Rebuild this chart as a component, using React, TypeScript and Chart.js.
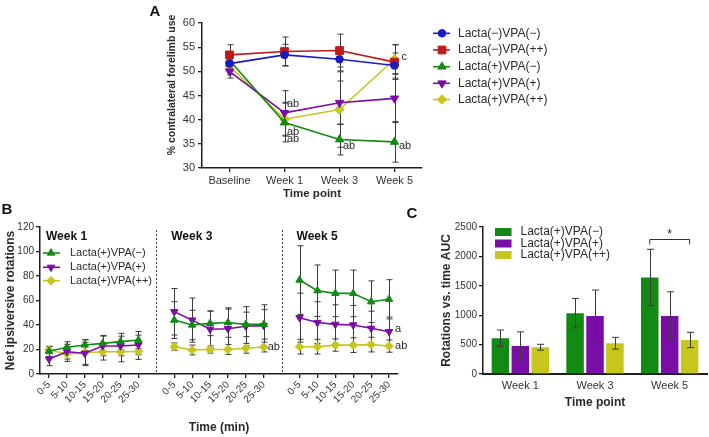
import React, { useEffect, useRef } from "react";
import { Chart, registerables } from "chart.js";
import { drawPoint } from "chart.js/helpers";

Chart.register(...registerables);

const FONT = "'Liberation Sans', Arial, Helvetica, sans-serif";
const AXIS = "#1e1e1e";
const TXT = "#2a2a2a";
const ERR = "#3a3a3a";
Chart.defaults.font.family = FONT;
Chart.defaults.color = TXT;

// ---------- Panel A data ----------
const timePointsA = ["Baseline", "Week 1", "Week 3", "Week 5"];
const groupNamesA = ["Lacta(−)VPA(−)", "Lacta(−)VPA(++)", "Lacta(+)VPA(−)", "Lacta(+)VPA(+)", "Lacta(+)VPA(++)"];
const forelimbBlue = [51.6, 53.4, 52.5, 51.2];
const forelimbBlueErr = [1.6, 2.2, 2.4, 2.6];
const forelimbRed = [53.4, 54.1, 54.3, 51.9];
const forelimbRedErr = [2.1, 3.0, 3.4, 3.6];
const forelimbGreen = [52.3, 39.4, 35.9, 35.4];
const forelimbGreenErr = [1.8, 4.0, 3.2, 4.2];
const forelimbPurple = [50.0, 41.4, 43.5, 44.4];
const forelimbPurpleErr = [1.4, 4.6, 4.5, 5.0];
const forelimbYellow = [51.1, 40.1, 42.1, 52.5];
const forelimbYellowErr = [1.8, 3.5, 7.8, 3.0];
const annotationTextA = ["ab", "ab", "ab", "ab", "ab", "c"];
const annotationCatA = [1, 1, 1, 2, 3, 3];
const annotationValueA = [43.2, 37.4, 36.0, 34.6, 34.6, 53.0];

// ---------- Panel B data ----------
const intervalLabels = ["0-5", "5-10", "10-15", "15-20", "20-25", "25-30"];
const weekNamesB = ["Week 1", "Week 3", "Week 5"];
const groupNamesB = ["Lacta(+)VPA(−)", "Lacta(+)VPA(+)", "Lacta(+)VPA(++)"];
const rotGreenW1 = [18.5, 21.8, 23.7, 25.0, 26.4, 27.7];
const rotGreenW3 = [44.0, 40.0, 41.3, 42.0, 40.5, 40.5];
const rotGreenW5 = [76.7, 68.0, 65.8, 65.8, 59.0, 61.0];
const rotPurpleW1 = [12.2, 18.2, 16.9, 22.9, 22.9, 23.7];
const rotPurpleW3 = [50.8, 44.0, 36.5, 37.0, 39.0, 39.5];
const rotPurpleW5 = [46.0, 42.0, 40.5, 40.0, 37.3, 34.5];
const rotYellowW1 = [19.6, 16.3, 17.4, 18.2, 18.2, 18.4];
const rotYellowW3 = [22.3, 19.6, 20.0, 20.0, 21.0, 22.0];
const rotYellowW5 = [22.3, 22.3, 23.6, 23.6, 24.0, 22.8];
const rotGreenErrW1 = [4, 4.5, 4.5, 6.5, 6.8, 7];
const rotGreenErrW3 = [15, 12, 10, 12, 10, 12];
const rotGreenErrW5 = [28, 21, 19, 19, 17, 16];
const rotPurpleErrW1 = [5.4, 6, 9, 8, 8, 8];
const rotPurpleErrW3 = [19, 18, 15, 16, 16, 17];
const rotPurpleErrW5 = [20, 17, 16, 16, 14, 12];
const rotYellowErrW1 = [3, 6, 10.5, 6.8, 8.2, 6.5];
const rotYellowErrW3 = [3, 4, 3, 4, 4, 4];
const rotYellowErrW5 = [6, 6, 5, 6, 6, 5];
const annotationTextB = ["ab", "a", "ab"];
const annotationCatB = [12, 19, 19];
const annotationValueB = [22.0, 36.7, 22.8];

// ---------- Panel C data ----------
const weeksC = ["Week 1", "Week 3", "Week 5"];
const aucGreen = [608, 1034, 1641];
const aucGreenErr = [140, 250, 480];
const aucPurple = [477, 988, 988];
const aucPurpleErr = [240, 440, 410];
const aucYellow = [455, 523, 579];
const aucYellowErr = [50, 100, 130];
const sigLabelC = "*";
const sigValueC = 2300;

const BLUE = "#1b1bc4";
const RED = "#bf1a1a";
const GREEN = "#138a13";
const PURPLE = "#7a0ca8";
const YELLOW = "#c6c61c";

function joinWeeks(a: number[], b: number[], c: number[]) {
  return [...a, null, ...b, null, ...c];
}
const labelsB = [...intervalLabels, "", ...intervalLabels, "", ...intervalLabels];

function errorBars(id: string, layer: "before" | "after", cap: number) {
  const draw = (chart: any) => {
    const { ctx } = chart;
    const ys = chart.scales.y;
    ctx.save();
    ctx.strokeStyle = ERR;
    ctx.lineWidth = 1;
    chart.data.datasets.forEach((ds: any, di: number) => {
      if (!ds.errors) return;
      const meta = chart.getDatasetMeta(di);
      meta.data.forEach((el: any, i: number) => {
        const v = ds.data[i];
        const e = ds.errors[i];
        if (v == null || e == null) return;
        const x = Math.round(el.x) + 0.5;
        const yt = ys.getPixelForValue(v + e);
        const yb = ys.getPixelForValue(v - e);
        ctx.beginPath();
        ctx.moveTo(x, yt);
        ctx.lineTo(x, yb);
        ctx.moveTo(x - cap, yt);
        ctx.lineTo(x + cap, yt);
        ctx.moveTo(x - cap, yb);
        ctx.lineTo(x + cap, yb);
        ctx.stroke();
      });
    });
    ctx.restore();
  };
  return layer === "before" ? { id, beforeDatasetsDraw: draw } : { id, afterDatasetsDraw: draw };
}

function marker(ctx: any, ds: any, x: number, y: number) {
  ctx.save();
  ctx.fillStyle = ds.borderColor;
  ctx.strokeStyle = ds.borderColor;
  ctx.lineWidth = 1;
  drawPoint(ctx, { pointStyle: ds.pointStyle, rotation: ds.pointRotation || 0, radius: ds.pointRadius, borderWidth: 1 }, x, y);
  ctx.restore();
}

function panelLabel(ctx: any, t: string, x: number, y: number) {
  ctx.save();
  ctx.font = `bold 15px ${FONT}`;
  ctx.fillStyle = "#111";
  ctx.textAlign = "center";
  ctx.textBaseline = "middle";
  ctx.fillText(t, x, y);
  ctx.restore();
}

function lineDs(label: string, data: any[], errors: any[], color: string, style: string, radius: number, rotation = 0) {
  return {
    label,
    data,
    errors,
    borderColor: color,
    backgroundColor: color,
    pointBackgroundColor: color,
    pointBorderColor: color,
    pointStyle: style,
    pointRadius: radius,
    pointRotation: rotation,
    pointBorderWidth: 1,
    borderWidth: 1.6,
    tension: 0,
    fill: false,
    spanGaps: false,
  };
}

const axisGrid = { drawOnChartArea: false, drawTicks: true, tickLength: 4, color: AXIS, lineWidth: 1.3 };
const axisBorder = { color: AXIS, width: 1.5 };
const plainNumber = (v: any) => String(v);

function ChartCanvas({ left, top, width, height, make }: any) {
  const ref = useRef<HTMLCanvasElement | null>(null);
  useEffect(() => {
    if (!ref.current) return;
    const chart = new Chart(ref.current, make());
    return () => chart.destroy();
  }, []);
  return (
    <canvas
      ref={ref}
      width={width}
      height={height}
      style={{ position: "absolute", left, top, width, height, display: "block" }}
    />
  );
}

function makeA(): any {
  const extras = {
    id: "extrasA",
    afterDraw(chart: any) {
      const { ctx } = chart;
      const xs = chart.scales.x;
      const ys = chart.scales.y;
      panelLabel(ctx, "A", 10, 12);
      ctx.save();
      ctx.translate(27, 85);
      ctx.rotate(-Math.PI / 2);
      ctx.font = `bold 10.5px ${FONT}`;
      ctx.fillStyle = TXT;
      ctx.textAlign = "center";
      ctx.textBaseline = "middle";
      ctx.fillText("% contralateral forelimb use", 0, 0);
      ctx.restore();
      const dxs = [2.5, 2.5, 2.5, 3.5, 4.5, 7];
      ctx.save();
      ctx.font = `11px ${FONT}`;
      ctx.fillStyle = TXT;
      ctx.textAlign = "left";
      ctx.textBaseline = "middle";
      annotationTextA.forEach((t, i) => {
        ctx.fillText(t, xs.getPixelForValue(annotationCatA[i]) + dxs[i], ys.getPixelForValue(annotationValueA[i]));
      });
      ctx.restore();
      const rows = [33.3, 50, 66.7, 83.3, 99.5];
      chart.data.datasets.forEach((ds: any, i: number) => {
        const y = rows[i];
        ctx.save();
        ctx.strokeStyle = ds.borderColor;
        ctx.lineWidth = 1.6;
        ctx.beginPath();
        ctx.moveTo(288, y);
        ctx.lineTo(305, y);
        ctx.stroke();
        ctx.restore();
        marker(ctx, ds, 297, y);
        ctx.save();
        ctx.font = `12px ${FONT}`;
        ctx.fillStyle = TXT;
        ctx.textBaseline = "middle";
        ctx.fillText(ds.label, 313, y);
        ctx.restore();
      });
    },
  };
  return {
    type: "line",
    data: {
      labels: timePointsA,
      datasets: [
        lineDs(groupNamesA[0], forelimbBlue, forelimbBlueErr, BLUE, "circle", 3.8),
        lineDs(groupNamesA[1], forelimbRed, forelimbRedErr, RED, "rect", 5.5),
        lineDs(groupNamesA[2], forelimbGreen, forelimbGreenErr, GREEN, "triangle", 4.8),
        lineDs(groupNamesA[3], forelimbPurple, forelimbPurpleErr, PURPLE, "triangle", 4.8, 180),
        lineDs(groupNamesA[4], forelimbYellow, forelimbYellowErr, YELLOW, "rectRot", 4.8),
      ],
    },
    options: {
      responsive: false,
      animation: false,
      devicePixelRatio: 1,
      layout: { padding: { top: 23, right: 287, left: 0, bottom: 0 } },
      plugins: { legend: { display: false }, tooltip: { enabled: false } },
      scales: {
        x: {
          type: "category",
          offset: true,
          grid: { ...axisGrid, offset: false },
          border: axisBorder,
          ticks: { font: { family: FONT, size: 11 }, color: "#333", padding: 2, maxRotation: 0, autoSkip: false },
          title: { display: true, text: "Time point", font: { family: FONT, size: 11.5, weight: "bold" }, color: TXT, padding: { top: 0, bottom: 4 } },
          afterFit: (s: any) => { s.height = 37; },
        },
        y: {
          min: 30,
          max: 60,
          grid: axisGrid,
          border: axisBorder,
          ticks: { stepSize: 5, font: { family: FONT, size: 11 }, color: "#333", padding: 3, callback: plainNumber },
          afterFit: (s: any) => { s.width = 57; },
        },
      },
    },
    plugins: [errorBars("ebA", "before", 3), extras],
  };
}

function makeB(): any {
  const extras = {
    id: "extrasB",
    afterDraw(chart: any) {
      const { ctx, chartArea } = chart;
      const xs = chart.scales.x;
      const ys = chart.scales.y;
      panelLabel(ctx, "B", 7, 10);
      ctx.save();
      ctx.strokeStyle = "#444";
      ctx.lineWidth = 1;
      ctx.setLineDash([2, 2]);
      [6, 13].forEach((idx) => {
        const x = Math.round(xs.getPixelForValue(idx)) + 0.5;
        ctx.beginPath();
        ctx.moveTo(x, chartArea.top + 3);
        ctx.lineTo(x, chartArea.bottom);
        ctx.stroke();
      });
      ctx.restore();
      ctx.save();
      ctx.font = `bold 12px ${FONT}`;
      ctx.fillStyle = "#111";
      ctx.textBaseline = "middle";
      [0, 7, 14].forEach((idx, i) => {
        ctx.fillText(weekNamesB[i], xs.getPixelForValue(idx) - 3, 37);
      });
      ctx.restore();
      const dxs = [4, 6, 6];
      ctx.save();
      ctx.font = `11px ${FONT}`;
      ctx.fillStyle = TXT;
      ctx.textBaseline = "middle";
      annotationTextB.forEach((t, i) => {
        ctx.fillText(t, xs.getPixelForValue(annotationCatB[i]) + dxs[i], ys.getPixelForValue(annotationValueB[i]));
      });
      ctx.restore();
      const rows = [53, 67.3, 80.7];
      chart.data.datasets.forEach((ds: any, i: number) => {
        const y = rows[i];
        ctx.save();
        ctx.strokeStyle = ds.borderColor;
        ctx.lineWidth = 1.6;
        ctx.beginPath();
        ctx.moveTo(43, y);
        ctx.lineTo(60, y);
        ctx.stroke();
        ctx.restore();
        marker(ctx, ds, 51, y);
        ctx.save();
        ctx.font = `11px ${FONT}`;
        ctx.fillStyle = TXT;
        ctx.textBaseline = "middle";
        ctx.fillText(ds.label, 70, y);
        ctx.restore();
      });
    },
  };
  return {
    type: "line",
    data: {
      labels: labelsB,
      datasets: [
        lineDs(groupNamesB[0], joinWeeks(rotGreenW1, rotGreenW3, rotGreenW5), joinWeeks(rotGreenErrW1, rotGreenErrW3, rotGreenErrW5), GREEN, "triangle", 4.3),
        lineDs(groupNamesB[1], joinWeeks(rotPurpleW1, rotPurpleW3, rotPurpleW5), joinWeeks(rotPurpleErrW1, rotPurpleErrW3, rotPurpleErrW5), PURPLE, "triangle", 4.3, 180),
        lineDs(groupNamesB[2], joinWeeks(rotYellowW1, rotYellowW3, rotYellowW5), joinWeeks(rotYellowErrW1, rotYellowErrW3, rotYellowErrW5), YELLOW, "rectRot", 4.3),
      ],
    },
    options: {
      responsive: false,
      animation: false,
      devicePixelRatio: 1,
      layout: { padding: { top: 27, right: 22, left: 0, bottom: 0 } },
      plugins: { legend: { display: false }, tooltip: { enabled: false } },
      scales: {
        x: {
          type: "category",
          offset: true,
          grid: {
            ...axisGrid,
            offset: false,
            tickColor: (c: any) => (labelsB[c.index] === "" ? "rgba(0,0,0,0)" : AXIS),
          },
          border: axisBorder,
          ticks: { font: { family: FONT, size: 10 }, color: "#333", padding: 1, minRotation: 45, maxRotation: 45, autoSkip: false },
          title: { display: true, text: "Time (min)", font: { family: FONT, size: 12, weight: "bold" }, color: TXT, padding: { top: 0, bottom: 2 } },
          afterFit: (s: any) => { s.height = 63; },
        },
        y: {
          min: 0,
          max: 120,
          grid: axisGrid,
          border: axisBorder,
          ticks: { stepSize: 20, font: { family: FONT, size: 10 }, color: "#333", padding: 2, callback: plainNumber },
          title: { display: true, text: "Net ipsiversive rotations", font: { family: FONT, size: 12, weight: "bold" }, color: TXT, padding: { top: 3, bottom: 0 } },
          afterFit: (s: any) => { s.width = 40; },
        },
      },
    },
    plugins: [errorBars("ebB", "before", 3), extras],
  };
}

function makeC(): any {
  const extras = {
    id: "extrasC",
    afterDraw(chart: any) {
      const { ctx } = chart;
      const ys = chart.scales.y;
      panelLabel(ctx, "C", 12, 14);
      const rows = [32, 43.5, 55];
      chart.data.datasets.forEach((ds: any, i: number) => {
        const y = rows[i];
        ctx.save();
        ctx.fillStyle = ds.backgroundColor;
        ctx.fillRect(95, y - 4, 16.5, 8);
        ctx.font = `12px ${FONT}`;
        ctx.fillStyle = TXT;
        ctx.textBaseline = "middle";
        ctx.fillText(ds.label, 120.5, y);
        ctx.restore();
      });
      const x1 = chart.getDatasetMeta(0).data[2].x;
      const x2 = chart.getDatasetMeta(2).data[2].x;
      const yb = Math.round(ys.getPixelForValue(sigValueC)) + 0.5;
      ctx.save();
      ctx.strokeStyle = "#333";
      ctx.lineWidth = 1;
      ctx.beginPath();
      ctx.moveTo(x1, yb + 5);
      ctx.lineTo(x1, yb);
      ctx.lineTo(x2, yb);
      ctx.lineTo(x2, yb + 5);
      ctx.stroke();
      ctx.font = `12px ${FONT}`;
      ctx.fillStyle = TXT;
      ctx.textAlign = "center";
      ctx.textBaseline = "middle";
      ctx.fillText(sigLabelC, (x1 + x2) / 2, yb - 5);
      ctx.restore();
    },
  };
  const barDs = (label: string, data: number[], errors: number[], color: string) => ({
    label,
    data,
    errors,
    backgroundColor: color,
    borderWidth: 0,
    categoryPercentage: 0.8,
    barPercentage: 0.88,
  });
  return {
    type: "bar",
    data: {
      labels: weeksC,
      datasets: [
        barDs(groupNamesB[0], aucGreen, aucGreenErr, GREEN),
        barDs(groupNamesB[1], aucPurple, aucPurpleErr, PURPLE),
        barDs(groupNamesB[2], aucYellow, aucYellowErr, YELLOW),
      ],
    },
    options: {
      responsive: false,
      animation: false,
      devicePixelRatio: 1,
      layout: { padding: { top: 27, right: 2, left: 0, bottom: 0 } },
      plugins: { legend: { display: false }, tooltip: { enabled: false } },
      scales: {
        x: {
          grid: { display: false, drawTicks: false, tickLength: 0 },
          border: { color: AXIS, width: 2 },
          ticks: { font: { family: FONT, size: 11 }, color: "#333", padding: 5 },
          title: { display: true, text: "Time point", font: { family: FONT, size: 12, weight: "bold" }, color: TXT, padding: { top: 0, bottom: 27 } },
          afterFit: (s: any) => { s.height = 63; },
        },
        y: {
          min: 0,
          max: 2500,
          grid: axisGrid,
          border: axisBorder,
          ticks: { stepSize: 500, font: { family: FONT, size: 10 }, color: "#333", padding: 2, callback: plainNumber },
          title: { display: true, text: "Rotations vs. time AUC", font: { family: FONT, size: 12, weight: "bold" }, color: TXT, padding: { top: 39, bottom: 0 } },
          afterFit: (s: any) => { s.width = 83; },
        },
      },
    },
    plugins: [errorBars("ebC", "after", 3.5), extras],
  };
}

export default function App() {
  return (
    <div style={{ position: "absolute", left: 0, top: 0, width: 709, height: 437, background: "#fff", overflow: "hidden" }}>
      <ChartCanvas left={145} top={0} width={564} height={205} make={makeA} />
      <ChartCanvas left={0} top={200} width={420} height={237} make={makeB} />
      <ChartCanvas left={400} top={200} width={309} height={237} make={makeC} />
    </div>
  );
}
